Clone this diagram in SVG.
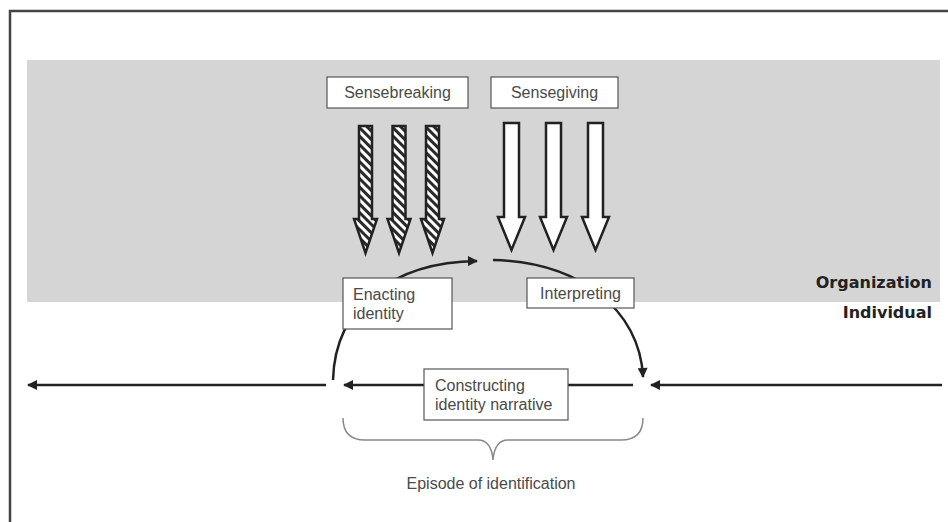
<svg xmlns="http://www.w3.org/2000/svg" xmlns:xlink="http://www.w3.org/1999/xlink" width="948" height="522" viewBox="0 0 948 522">
<style>
.box{fill:#fff;stroke:#555;stroke-width:1.2}
.lbl{font-family:"Liberation Sans",Arial,sans-serif;font-size:16px;fill:#4a4a4a}
.lvl{font-family:"DejaVu Sans",sans-serif;font-weight:bold;font-size:16px;fill:#222;text-anchor:end}
.conn{fill:none;stroke:#222;stroke-width:2.5}
.brace{fill:none;stroke:#888;stroke-width:1.5}
.big{stroke:#222;stroke-width:2.5;stroke-linejoin:miter}
</style>
<defs>
<pattern id="hatch" width="6" height="6" patternUnits="userSpaceOnUse" patternTransform="rotate(-45)">
<rect width="6" height="6" fill="#fff"/>
<rect width="3" height="6" fill="#2a2a2a"/>
</pattern>
<marker id="ah" viewBox="0 0 10 10" refX="9" refY="5" markerWidth="11" markerHeight="10" markerUnits="userSpaceOnUse" orient="auto">
<path d="M0,0 L10,5 L0,10 z" fill="#222"/>
</marker>
<path id="hArrow" d="M-6.5,126 L6.5,126 L6.5,219 L11.5,219 L0,253 L-11.5,219 L-6.5,219 Z"/>
<path id="wArrow" d="M-7.5,123 L7.5,123 L7.5,217 L13.5,217 L0,250 L-13.5,217 L-7.5,217 Z"/>
</defs>
<rect x="0" y="0" width="948" height="522" fill="#fff"/>
<rect x="10" y="11" width="980" height="560" fill="none" stroke="#444" stroke-width="2.5"/>
<rect id="organizationBand" x="27" y="60" width="913" height="242" fill="#d5d5d5"/>
<g id="sensebreaking">
<rect class="box" x="327" y="77" width="141" height="31"/>
<text class="lbl" x="397.5" y="98" text-anchor="middle">Sensebreaking</text>
<use xlink:href="#hArrow" x="365.5" fill="url(#hatch)" class="big"/>
<use xlink:href="#hArrow" x="399" fill="url(#hatch)" class="big"/>
<use xlink:href="#hArrow" x="432.5" fill="url(#hatch)" class="big"/>
</g>
<g id="sensegiving">
<rect class="box" x="491" y="77" width="127" height="31"/>
<text class="lbl" x="554.5" y="98" text-anchor="middle">Sensegiving</text>
<use xlink:href="#wArrow" x="511.5" fill="#fff" class="big"/>
<use xlink:href="#wArrow" x="553.5" fill="#fff" class="big"/>
<use xlink:href="#wArrow" x="595.5" fill="#fff" class="big"/>
</g>
<g id="connectors">
<path class="conn" d="M333,380 C335,305 395,262 477,261" marker-end="url(#ah)"/>
<path class="conn" d="M493,260 C580,262 640,310 643,377" marker-end="url(#ah)"/>
<path class="conn" d="M942,385 L651,385" marker-end="url(#ah)"/>
<path class="conn" d="M633,385 L344,385" marker-end="url(#ah)"/>
<path class="conn" d="M326,385 L28,385" marker-end="url(#ah)"/>
</g>
<g id="enacting">
<rect class="box" x="343" y="278" width="109" height="51"/>
<text class="lbl" x="353" y="300">Enacting</text>
<text class="lbl" x="353" y="319">identity</text>
</g>
<g id="interpreting">
<rect class="box" x="527" y="278" width="107" height="30"/>
<text class="lbl" x="580.5" y="299" text-anchor="middle">Interpreting</text>
</g>
<g id="constructing">
<rect class="box" x="424" y="369" width="144" height="51"/>
<text class="lbl" x="435" y="391">Constructing</text>
<text class="lbl" x="435" y="410">identity narrative</text>
</g>
<g id="episode">
<path class="brace" d="M343,418 C343,432 350,440 365,440 L478,440 C488,440 492,448 493,460 C494,448 498,440 508,440 L621,440 C636,440 643,432 643,418"/>
<text class="lbl" x="491" y="489" text-anchor="middle">Episode of identification</text>
</g>
<g id="levels">
<text class="lvl" x="932" y="288">Organization</text>
<text class="lvl" x="932" y="318">Individual</text>
</g>
</svg>
